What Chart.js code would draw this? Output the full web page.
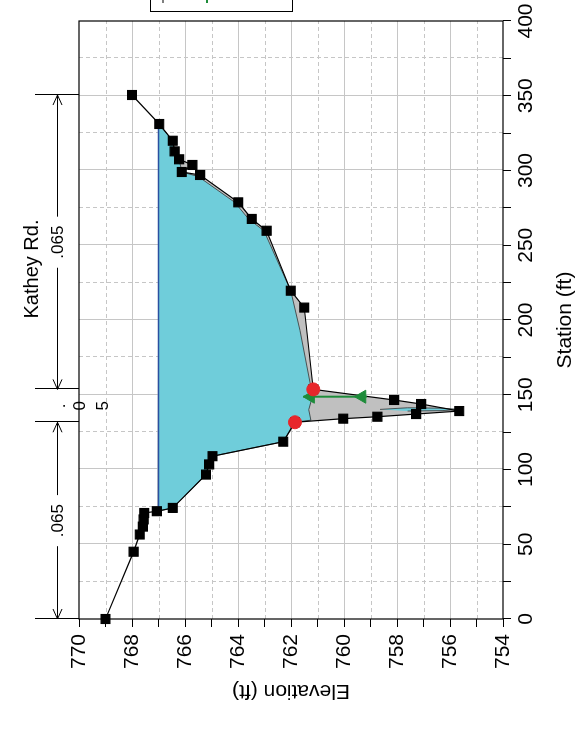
<!DOCTYPE html>
<html>
<head>
<meta charset="utf-8">
<script src="https://cdn.jsdelivr.net/npm/chart.js@4.4.1/dist/chart.umd.min.js"></script>
<style>
  html, body { margin: 0; padding: 0; background: #fff; overflow: hidden; }
  /* the cross section is drawn upright, then the whole plot is turned a quarter turn */
  #wrap { position: absolute; left: 0; top: 0; width: 731px; height: 579px;
          transform-origin: 0 0; transform: translate(0, 731px) rotate(-90deg); }
</style>
</head>
<body>
<div id="wrap"><canvas id="xsChart" width="731" height="579"></canvas></div>
<script>
// Ground points (station ft, elevation ft)
const groundSta  = [0, 45, 56.5, 61.8, 66.6, 70.9, 72.1, 74.3, 96.6, 103.4, 108.9, 118.6, 131.6, 134, 135.3, 137.1, 139.1, 143.8, 146.5, 153.6, 208.3, 219.6, 259.7, 267.6, 278.7, 297, 299, 303.7, 307.5, 312.8, 319.9, 331.1, 350.5];
const groundElev = [769.0, 767.94, 767.71, 767.59, 767.56, 767.54, 767.06, 766.46, 765.21, 765.09, 764.96, 762.29, 761.85, 760.03, 758.74, 757.28, 755.65, 757.09, 758.11, 761.16, 761.5, 762.01, 762.92, 763.48, 763.99, 765.43, 766.12, 765.72, 766.22, 766.39, 766.46, 766.97, 768.0];

// Flow area outline
const flowSta  = [72.1, 74.3, 96.6, 103.4, 108.9, 118.6, 131.6, 133, 140, 147, 153, 158, 193, 219.6, 259.7, 267.6, 278.7, 296, 299, 307.5, 312.8, 319.9, 331.1];
const flowElev = [767.0, 766.46, 765.21, 765.09, 764.96, 762.29, 761.85, 761.25, 761.33, 761.22, 761.22, 761.28, 761.66, 762.01, 763.02, 763.6, 764.12, 765.5, 766.12, 766.22, 766.39, 766.46, 767.0];

// small wetted sliver in the channel
const lensSta  = [140.2, 141.3, 141.0, 140.2, 139.4, 139.1];
const lensElev = [758.64, 757.6, 756.3, 755.6, 756.3, 757.6];

// Water surface
const wsSta  = [72.1, 331.1];
const wsElev = [767.0, 767.0];

// Bank stations
const bankSta  = [131.6, 153.6];
const bankElev = [761.85, 761.16];

// Green arrow (shaft and heads)
const arrowSta      = [148.7, 148.7];
const arrowElev     = [759.14, 761.54];
const arrowHeadElev = [761.26, 759.32];

// Manning's n breaks and values
const nBreaks = [0, 131.6, 153.6, 350.5];
const nValues = ['.065', '.05', '.065'];

const FONT = "'Liberation Sans', Arial, sans-serif";
const pts = (xs, ys) => xs.map((x, i) => ({ x: x, y: ys[i] }));

const decor = {
  id: 'decor',
  beforeDatasetsDraw(chart) {
    const { ctx, chartArea: a, scales: { x, y } } = chart;
    ctx.save();
    for (let s = 25; s < 400; s += 25) {
      const px = Math.round(x.getPixelForValue(s)) + 0.5;
      ctx.beginPath();
      ctx.strokeStyle = '#c6c6c6';
      ctx.lineWidth = 1;
      ctx.setLineDash(s % 50 === 0 ? [] : [4, 3]);
      ctx.moveTo(px, a.top); ctx.lineTo(px, a.bottom); ctx.stroke();
    }
    for (let e = 755; e < 770; e++) {
      const py = Math.round(y.getPixelForValue(e)) + 0.5;
      ctx.beginPath();
      ctx.strokeStyle = '#c6c6c6';
      ctx.setLineDash(e % 2 === 0 ? [] : [4, 3]);
      ctx.moveTo(a.left, py); ctx.lineTo(a.right, py); ctx.stroke();
    }
    ctx.setLineDash([]);
    ctx.strokeStyle = '#000';
    ctx.lineWidth = 1.2;
    ctx.strokeRect(a.left, a.top, a.right - a.left, a.bottom - a.top);
    ctx.restore();
  },
  afterDraw(chart) {
    const { ctx, chartArea: a, scales: { x } } = chart;
    ctx.save();
    ctx.fillStyle = '#000';
    ctx.strokeStyle = '#000';
    ctx.lineWidth = 1;

    ctx.font = '20px ' + FONT;
    ctx.textAlign = 'center';
    ctx.textBaseline = 'alphabetic';
    ctx.fillText('Kathey Rd.', 462, 38);

    // n value break lines
    nBreaks.forEach(s => {
      const px = Math.round(x.getPixelForValue(s)) + 0.5;
      ctx.beginPath(); ctx.moveTo(px, 35); ctx.lineTo(px, a.top); ctx.stroke();
    });

    const ya = 57.5;
    for (let i = 0; i < nValues.length; i++) {
      const x0 = x.getPixelForValue(nBreaks[i]);
      const x1 = x.getPixelForValue(nBreaks[i + 1]);
      const xm = (x0 + x1) / 2;
      if (x1 - x0 > 60) {
        ctx.font = '17px ' + FONT;
        ctx.textBaseline = 'middle';
        const w = ctx.measureText(nValues[i]).width;
        ctx.beginPath();
        ctx.moveTo(x0, ya); ctx.lineTo(xm - w / 2 - 9, ya);
        ctx.moveTo(xm + w / 2 + 9, ya); ctx.lineTo(x1, ya);
        // open arrow heads
        ctx.moveTo(x0 + 10, ya - 4.5); ctx.lineTo(x0, ya); ctx.lineTo(x0 + 10, ya + 4.5);
        ctx.moveTo(x1 - 10, ya - 4.5); ctx.lineTo(x1, ya); ctx.lineTo(x1 - 10, ya + 4.5);
        ctx.stroke();
        ctx.fillText(nValues[i], xm, ya + 1);
      } else {
        // narrow span: characters stacked
        ctx.font = '17px ' + FONT;
        ctx.textBaseline = 'alphabetic';
        const chars = nValues[i].split('');
        const base = [65, 85, 108];
        chars.forEach((c, k) => ctx.fillText(c, xm, base[k]));
      }
    }

    // legend box, mostly outside the canvas
    ctx.lineWidth = 1;
    ctx.strokeRect(719.5, 150.5, 30, 142);
    ctx.lineWidth = 2;
    ctx.strokeStyle = '#808080';
    ctx.beginPath(); ctx.moveTo(728, 163); ctx.lineTo(731, 163); ctx.stroke();
    ctx.strokeStyle = '#1e8c3a';
    ctx.beginPath(); ctx.moveTo(728, 207); ctx.lineTo(731, 207); ctx.stroke();
    ctx.restore();
  }
};

new Chart(document.getElementById('xsChart').getContext('2d'), {
  type: 'line',
  data: {
    datasets: [
      { label: 'Bank Sta', data: pts(bankSta, bankElev), showLine: false, pointStyle: 'circle',
        pointRadius: 6.5, pointBackgroundColor: '#e8262b', pointBorderColor: '#e8262b', clip: false },
      { label: 'Arrow heads', data: pts([arrowSta[0], arrowSta[1]], arrowHeadElev), showLine: false,
        pointStyle: 'triangle', pointRadius: 7.5, pointBackgroundColor: '#1e8c3a', pointBorderColor: '#1e8c3a' },
      { label: 'Arrow', data: pts(arrowSta, arrowElev), borderColor: '#1e8c3a', borderWidth: 2, pointRadius: 0 },
      { label: 'Ground', data: pts(groundSta, groundElev), borderColor: '#000', borderWidth: 1.2,
        pointStyle: 'rect', pointRadius: 6.3, pointBackgroundColor: '#000', pointBorderColor: '#000', clip: false },
      { label: 'WS', data: pts(wsSta, wsElev), borderColor: '#2b4fa0', borderWidth: 1.5, pointRadius: 0 },
      { label: 'Lens', data: pts(lensSta, lensElev), borderColor: '#333', borderWidth: 0.8,
        backgroundColor: '#6fcdda', fill: 'shape', pointRadius: 0 },
      { label: 'Flow', data: pts(flowSta, flowElev), borderColor: '#333', borderWidth: 0.8,
        backgroundColor: '#6fcdda', fill: 'shape', pointRadius: 0 },
      { label: 'Ground fill', data: pts(groundSta.slice(6, 32), groundElev.slice(6, 32)), borderColor: 'rgba(0,0,0,0)',
        borderWidth: 0, backgroundColor: '#c0c0c0', fill: 'shape', pointRadius: 0 }
    ]
  },
  options: {
    responsive: false,
    animation: false,
    layout: { padding: { left: 0, top: 79, right: 21, bottom: 0 } },
    plugins: { legend: { display: false }, tooltip: { enabled: false } },
    elements: { line: { tension: 0 } },
    scales: {
      x: {
        type: 'linear', min: 0, max: 400,
        afterFit: s => { s.height = 76; },
        border: { display: false },
        grid: { drawOnChartArea: false, tickLength: 8, tickColor: '#000' },
        ticks: { stepSize: 25, autoSkip: false, maxRotation: 0, padding: 3, color: '#000',
                 font: { family: FONT, size: 21 }, callback: v => (v % 50 === 0 ? v : '') },
        title: { display: true, text: 'Station (ft)', color: '#000', font: { family: FONT, size: 21 },
                 padding: { top: 0, bottom: 1 } }
      },
      y: {
        type: 'linear', min: 754, max: 770,
        afterFit: s => { s.width = 112; },
        border: { display: false },
        grid: { drawOnChartArea: false, tickLength: 8, tickColor: '#000' },
        ticks: { stepSize: 1, autoSkip: false, padding: 7, color: '#000',
                 font: { family: FONT, size: 21 }, callback: v => (v % 2 === 0 ? v : '') },
        title: { display: true, text: 'Elevation (ft)', color: '#000', font: { family: FONT, size: 21 },
                 padding: { top: 28, bottom: 0 } }
      }
    }
  },
  plugins: [decor]
});
</script>
</body>
</html>
